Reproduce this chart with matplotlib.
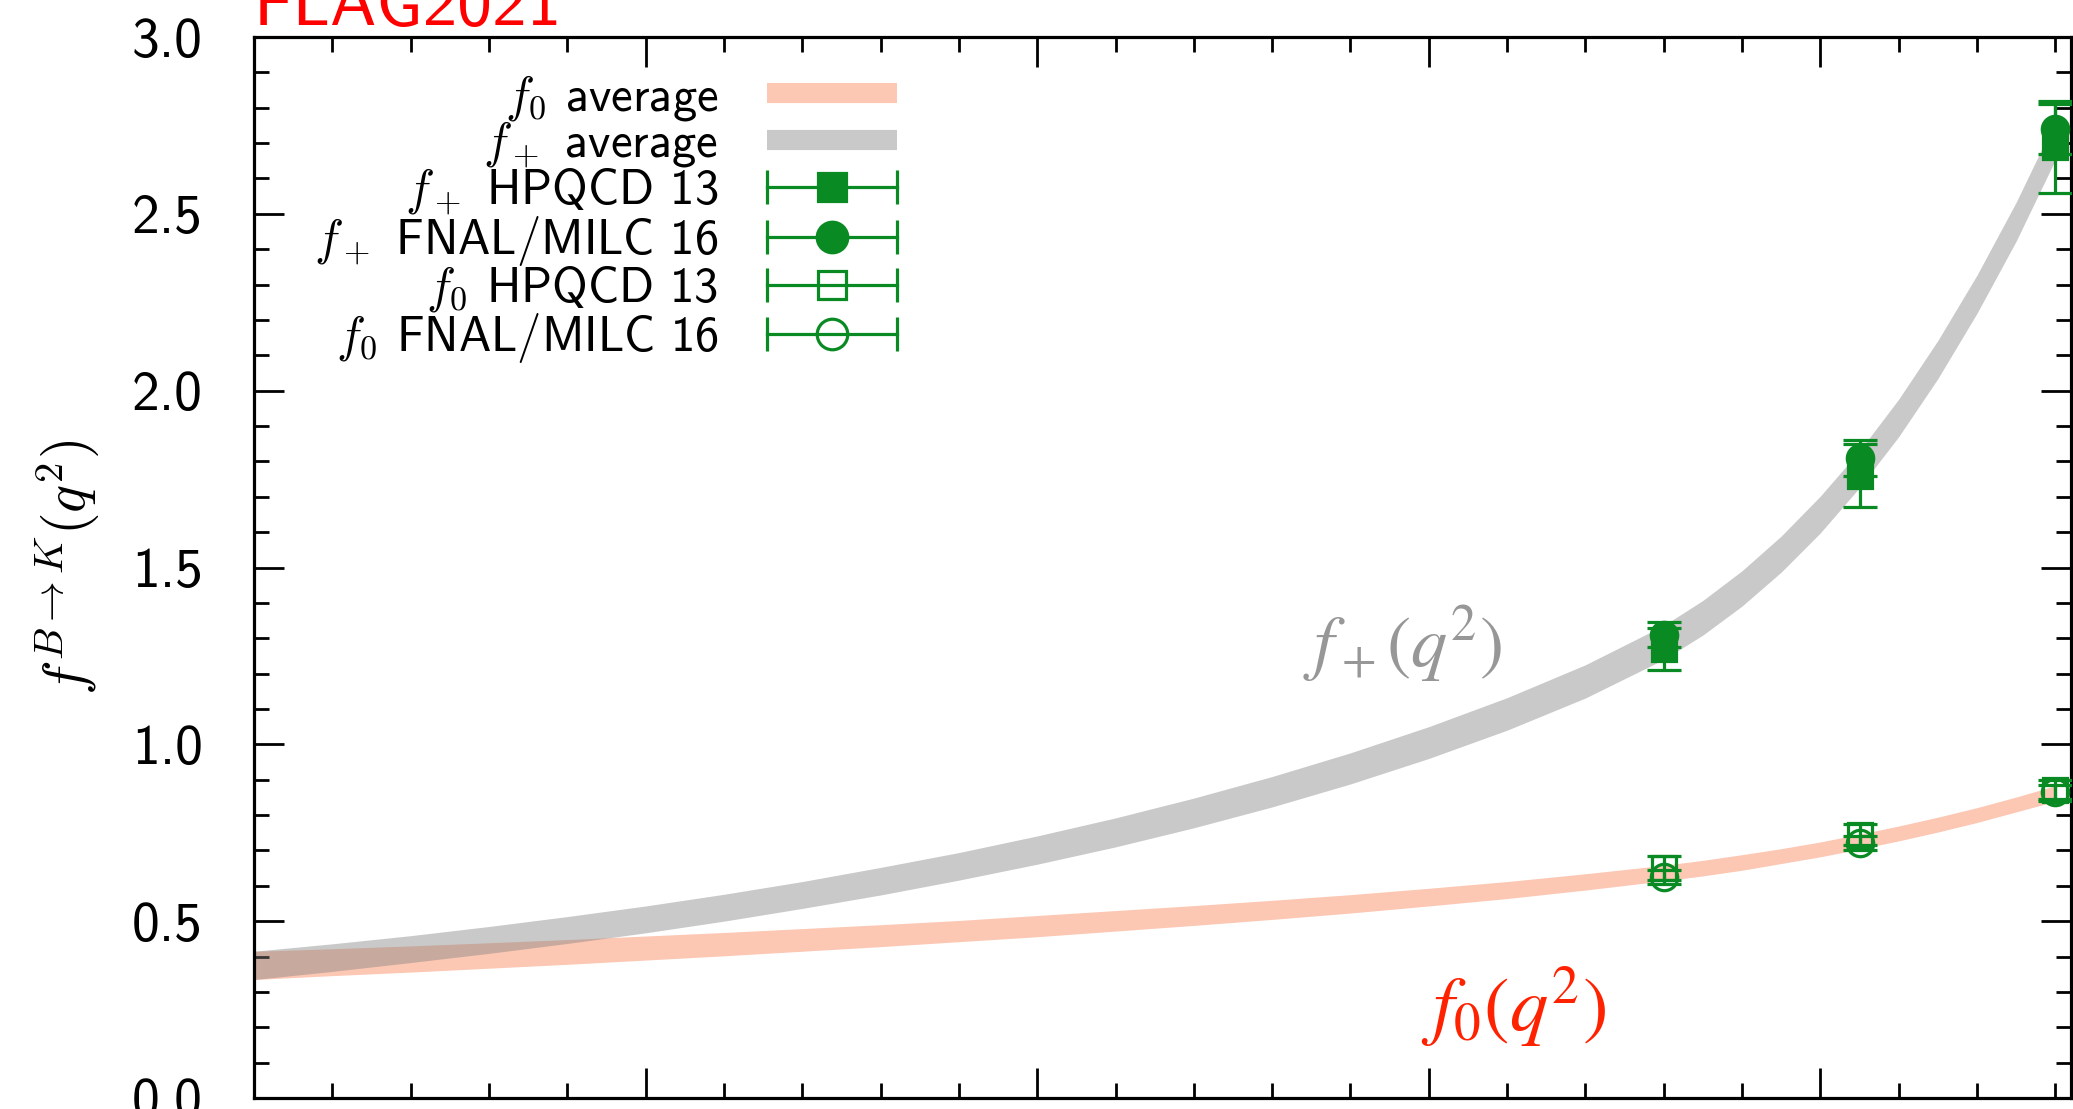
import matplotlib
matplotlib.use('Agg')
import matplotlib.pyplot as plt
from matplotlib.lines import Line2D
from matplotlib.legend_handler import HandlerLine2D
from matplotlib.ticker import MultipleLocator, FormatStrFormatter
import numpy as np

plt.rcParams['font.family'] = 'cmss10'
plt.rcParams['mathtext.fontset'] = 'cm'
plt.rcParams['axes.formatter.use_mathtext'] = True

GREEN = '#0a8a23'
SALMON = '#fcc7b3'
GREY = '0.5'
GREY_ALPHA = 0.42

# ---- averaged form factor bands (q^2 in GeV^2) ----
q2_band = [0, 1, 2, 3, 4, 5, 6, 7, 8, 9, 10, 11, 12, 13, 14, 15, 16, 17, 18,
           18.5, 19, 19.5, 20, 20.5, 21, 21.5, 22, 22.5, 23]
fplus_mid = [0.375, 0.397, 0.421, 0.447, 0.475, 0.505, 0.538, 0.574, 0.613, 0.655,
             0.701, 0.751, 0.806, 0.866, 0.932, 1.005, 1.086, 1.178, 1.288,
             1.358, 1.441, 1.538, 1.650, 1.778, 1.923, 2.088, 2.273, 2.478, 2.708]
fplus_err = [0.040, 0.039, 0.038, 0.038, 0.038, 0.038, 0.038, 0.038, 0.039, 0.039,
             0.040, 0.041, 0.042, 0.043, 0.044, 0.045, 0.046, 0.047, 0.048,
             0.049, 0.050, 0.051, 0.052, 0.052, 0.053, 0.054, 0.054, 0.055, 0.055]
fzero_mid = [0.375, 0.384, 0.393, 0.403, 0.413, 0.424, 0.435, 0.447, 0.459, 0.472,
             0.486, 0.501, 0.516, 0.532, 0.549, 0.568, 0.588, 0.611, 0.636,
             0.650, 0.666, 0.684, 0.703, 0.725, 0.748, 0.773, 0.800, 0.830, 0.861]
fzero_err = [0.040, 0.038, 0.037, 0.036, 0.035, 0.034, 0.033, 0.032, 0.031, 0.030,
             0.030, 0.029, 0.028, 0.027, 0.026, 0.025, 0.024, 0.023, 0.022,
             0.022, 0.022, 0.021, 0.021, 0.021, 0.021, 0.021, 0.021, 0.021, 0.022]

# ---- synthetic lattice data points ----
q2_pts = [18.0, 20.5, 23.0]
fp_hpqcd = [1.27, 1.76, 2.69]
fp_hpqcd_err = [0.06, 0.09, 0.13]
fp_fnal = [1.31, 1.81, 2.74]
fp_fnal_err = [0.035, 0.05, 0.07]
f0_hpqcd = [0.65, 0.745, 0.87]
f0_hpqcd_err = [0.035, 0.03, 0.03]
f0_fnal = [0.625, 0.72, 0.865]
f0_fnal_err = [0.02, 0.02, 0.02]

fig = plt.figure(figsize=(20.73, 11.09), dpi=100)
ax = fig.add_axes([254 / 2073, 11 / 1109, 1817 / 2073, 1061 / 1109])

q = np.array(q2_band)
fp = np.array(fplus_mid)
fpe = np.array(fplus_err)
f0 = np.array(fzero_mid)
f0e = np.array(fzero_err)

ax.fill_between(q, f0 - f0e, f0 + f0e, color=SALMON, lw=0, zorder=1)
ax.fill_between(q, fp - fpe, fp + fpe, color=GREY, alpha=GREY_ALPHA, lw=0, zorder=2)

eb_kw = dict(color=GREEN, ecolor=GREEN, elinewidth=2.3, capsize=12.5, capthick=2.3,
             mew=2.3, ls='none', zorder=5)
ax.errorbar(q2_pts, f0_hpqcd, yerr=f0_hpqcd_err, marker='s', ms=17, mfc='none', **eb_kw)
ax.errorbar(q2_pts, f0_fnal, yerr=f0_fnal_err, marker='o', ms=19, mfc='none', **eb_kw)
ax.errorbar(q2_pts, fp_hpqcd, yerr=fp_hpqcd_err, marker='s', ms=17, mfc=GREEN, **eb_kw)
ax.errorbar(q2_pts, fp_fnal, yerr=fp_fnal_err, marker='o', ms=19, mfc=GREEN, **eb_kw)

ax.text(13.4, 1.22, r'$f_+(q^2)$', math_fontfamily='stix', fontsize=52,
        color='#979797', va='baseline', ha='left')
ax.text(14.9, 0.19, r'$f_0(q^2)$', math_fontfamily='stix', fontsize=55,
        color='#ff2200', va='baseline', ha='left')

ax.set_xlim(0, 23.2)
ax.set_ylim(0, 3.0)
ax.xaxis.set_major_locator(MultipleLocator(5))
ax.xaxis.set_minor_locator(MultipleLocator(1))
ax.yaxis.set_major_locator(MultipleLocator(0.5))
ax.yaxis.set_minor_locator(MultipleLocator(0.1))
ax.yaxis.set_major_formatter(FormatStrFormatter('%.1f'))
ax.tick_params(which='both', direction='in', top=True, right=True,
               labelbottom=False, width=2, color='black')
ax.tick_params(which='major', length=21.6)
ax.tick_params(which='minor', length=10.8)
ax.tick_params(axis='y', labelsize=40, pad=37)
for sp in ax.spines.values():
    sp.set_linewidth(2.3)

ax.set_ylabel(r'$f^{B\to K}(q^2)$', fontsize=42)
ax.yaxis.set_label_coords(-0.084, 0.5)

# ---- legend ----
def eb_proxy(marker, filled, ms):
    bar = Line2D([], [], color=GREEN, lw=2.3, marker='|', markersize=24, mew=2.3)
    mk = Line2D([], [], ls='none', marker=marker, markersize=ms, color=GREEN,
                mfc=GREEN if filled else 'none', mew=2.3)
    return (bar, mk), {bar: HandlerLine2D(numpoints=2, marker_pad=0),
                       mk: HandlerLine2D(numpoints=1)}

h0 = Line2D([], [], color=SALMON, lw=14.5, solid_capstyle='butt')
h1 = Line2D([], [], color=GREY, alpha=GREY_ALPHA, lw=14.5, solid_capstyle='butt')
handles = [h0, h1]
hmap = {}
for marker, filled, ms in [('s', True, 20), ('o', True, 22), ('s', False, 20), ('o', False, 22)]:
    hh, mp = eb_proxy(marker, filled, ms)
    handles.append(hh)
    hmap.update(mp)
labels = [r'$f_0$ average', r'$f_+$ average', r'$f_+$ HPQCD 13',
          r'$f_+$ FNAL/MILC 16', r'$f_0$ HPQCD 13', r'$f_0$ FNAL/MILC 16']
leg = ax.legend(handles, labels, handler_map=hmap, loc='upper right',
                bbox_to_anchor=(897 / 2073, 1 - 73 / 1109), bbox_transform=fig.transFigure,
                frameon=False, markerfirst=False, fontsize=35, handlelength=2.68,
                handletextpad=0.99, labelspacing=-0.07, borderpad=0, borderaxespad=0)

fig.text(254 / 2073, 1 - 25 / 1109, 'FLAG2021', color='red', fontsize=50,
         va='baseline', ha='left')

fig.savefig('out.png', dpi=100, facecolor='white')
